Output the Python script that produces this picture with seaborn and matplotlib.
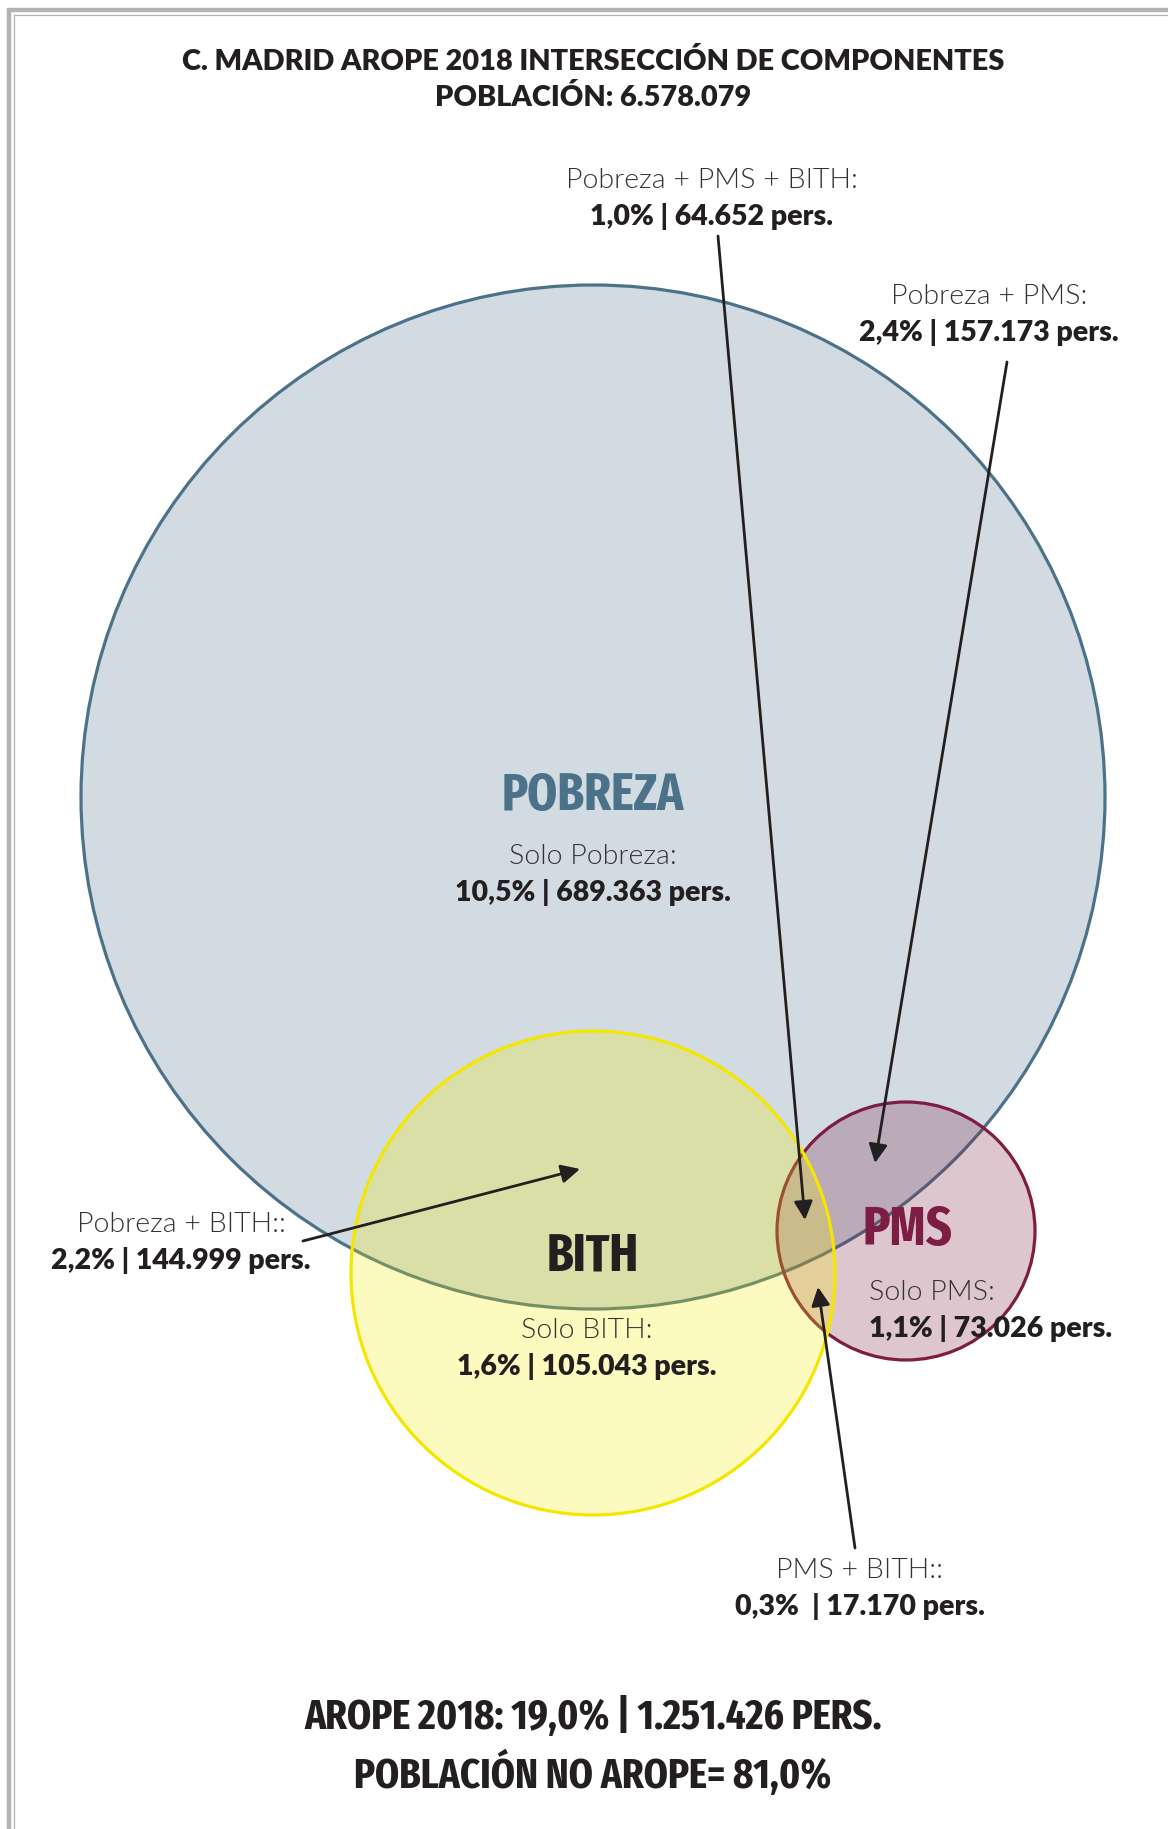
import matplotlib
matplotlib.use("Agg")
import matplotlib.pyplot as plt
from matplotlib import font_manager
from matplotlib.patches import Circle
from matplotlib.lines import Line2D
import seaborn as sns
import pandas as pd

# ---------------- data ----------------
title_lines = ["C. MADRID AROPE 2018 INTERSECCIÓN DE COMPONENTES", "POBLACIÓN: 6.578.079"]
set_names = ["POBREZA", "PMS", "BITH"]
region_names = ["Pobreza + PMS + BITH:", "Pobreza + PMS:", "Solo Pobreza:",
                "Pobreza + BITH::", "Solo BITH:", "Solo PMS:", "PMS + BITH::"]
region_pct = ["1,0%", "2,4%", "10,5%", "2,2%", "1,6%", "1,1%", "0,3% "]
region_pers = ["64.652", "157.173", "689.363", "144.999", "105.043", "73.026", "17.170"]
footer_lines = ["AROPE 2018: 19,0% | 1.251.426 PERS.", "POBLACIÓN NO AROPE= 81,0%"]

# ---------------- layout / style ----------------
W, H = 1168, 1829
circles = pd.DataFrame({
    "name": set_names,
    "cx": [593, 906, 593],
    "cy": [797, 1231, 1273],
    "r": [512, 129, 242],
    "edge": ["#4b7289", "#7d1d43", "#f5e600"],
    "fill": ["#4b7289", "#7d1d43", "#f8ec00"],
    "label_color": ["#4b7289", "#7d1d43", "#231f20"],
    "lx": [593, 907, 593],
    "ly": [796, 1231, 1257],
    "lw_target": [182, 90, 92],
})

sns.set_theme(style="white")


def pick(fams):
    for f in fams:
        try:
            font_manager.findfont(font_manager.FontProperties(family=f), fallback_to_default=False)
            return f
        except Exception:
            pass
    return "DejaVu Sans"


def condensed_bold():
    best = None
    rank = {"ExtraCondensed": 0, "Compressed": 0, "Condensed": 1, "Narrow": 2, "SemiCondensed": 3}
    for f in font_manager.fontManager.ttflist:
        name = f.fname.split("/")[-1]
        w = f.weight if isinstance(f.weight, int) else 700 if "bold" in str(f.weight).lower() else 400
        if w < 600 or "Italic" in name or "Oblique" in name:
            continue
        r = None
        for key in ["SemiCondensed", "ExtraCondensed", "Compressed", "Condensed", "Narrow"]:
            if key in name:
                r = rank[key]
                break
        if r is None:
            continue
        score = (r, abs(w - 700))
        if best is None or score < best[0]:
            best = (score, f.fname)
    return best[1] if best else None


COND_FILE = condensed_bold()
LIGHT = pick(["Lato", "Open Sans", "Roboto"])
BOLD = pick(["Lato", "Open Sans", "Roboto"])
plt.rcParams["font.family"] = [LIGHT, "DejaVu Sans"]


def cond_props(size):
    if COND_FILE:
        return dict(fontproperties=font_manager.FontProperties(fname=COND_FILE, size=size))
    return dict(family="DejaVu Sans", weight="bold", fontsize=size)


DARK = "#231f20"

fig = plt.figure(figsize=(W / 100, H / 100), dpi=100)
fig.patch.set_facecolor("white")
ax = fig.add_axes([0, 0, 1, 1])
ax.set_xlim(0, W)
ax.set_ylim(H, 0)
ax.axis("off")

# frame lines (top / left)
gray = "#b2b4b2"
ax.add_line(Line2D([7, W], [10, 10], color=gray, lw=3.2, solid_capstyle="butt"))
ax.add_line(Line2D([13.5, W], [14.5, 14.5], color=gray, lw=0.9, solid_capstyle="butt"))
ax.add_line(Line2D([9, 9], [8, H], color=gray, lw=3.2, solid_capstyle="butt"))
ax.add_line(Line2D([13.5, 13.5], [14, H], color=gray, lw=0.9, solid_capstyle="butt"))

# circles
for _, c in circles.iterrows():
    ax.add_patch(Circle((c.cx, c.cy), c.r, facecolor=c.fill, alpha=0.25, lw=0, zorder=2))
    ax.add_patch(Circle((c.cx, c.cy), c.r, facecolor="none", edgecolor=c.edge, lw=2.3, zorder=2))

fit_list = []  # (text, target width px, max font size pt)

# set labels
for _, c in circles.iterrows():
    t = ax.text(c.lx, c.ly, c["name"], color=c.label_color, ha="center", va="center",
                zorder=5, **cond_props(40))
    fit_list.append((t, c.lw_target, 52))

# region labels: (x, y of name line, y of value line, ha)
pos = [
    (712, 181, 216, "center"),
    (989, 297, 333, "center"),
    (593, 856, 893, "center"),
    (181, 1224, 1260, "center"),
    (587, 1331, 1367, "center"),
    (869, 1292, 1328, "left"),
    (860, 1570, 1606, "center"),
]
for i, (x, y1, y2, ha) in enumerate(pos):
    ax.text(x, y1, region_names[i], fontsize=20.5, weight=300, color="#333333",
            ha=ha, va="center", family=[LIGHT, "DejaVu Sans"], zorder=6)
    ax.text(x, y2, f"{region_pct[i]} | {region_pers[i]} pers.", fontsize=20.5, weight="heavy",
            color=DARK, ha=ha, va="center", family=[BOLD, "DejaVu Sans"], zorder=6)

# arrows (start near label -> tip inside region)
arrows = [((718, 236), (805, 1220)),
          ((1007, 362), (875, 1163)),
          ((303, 1241), (580, 1169)),
          ((855, 1548), (818, 1287))]
for (sx, sy), (tx, ty) in arrows:
    ax.annotate("", xy=(tx, ty), xytext=(sx, sy),
                arrowprops=dict(arrowstyle="-|>", color=DARK, lw=2.0,
                                mutation_scale=28, shrinkA=0, shrinkB=0),
                zorder=7)

# title
ax.text(593, 62, title_lines[0], fontsize=20.8, weight="heavy", color=DARK,
        ha="center", va="center", family=[BOLD, "DejaVu Sans"])
ax.text(593, 98, title_lines[1], fontsize=20.8, weight="heavy", color=DARK,
        ha="center", va="center", family=[BOLD, "DejaVu Sans"])

# footer
f1 = ax.text(593, 1718, footer_lines[0], color=DARK, ha="center", va="center", **cond_props(28))
f2 = ax.text(593, 1774, footer_lines[1], color=DARK, ha="center", va="center", **cond_props(28))
fit_list.append((f1, 580, 37))

# fit condensed texts to the reference widths (capped by cap height)
fig.canvas.draw()
renderer = fig.canvas.get_renderer()
for t, target, cap in fit_list:
    bb = t.get_window_extent(renderer)
    size = t.get_fontsize() * target / bb.width
    t.set_fontsize(min(size, cap))
f2.set_fontsize(f1.get_fontsize())

fig.savefig("out.png", dpi=100, facecolor="white")
